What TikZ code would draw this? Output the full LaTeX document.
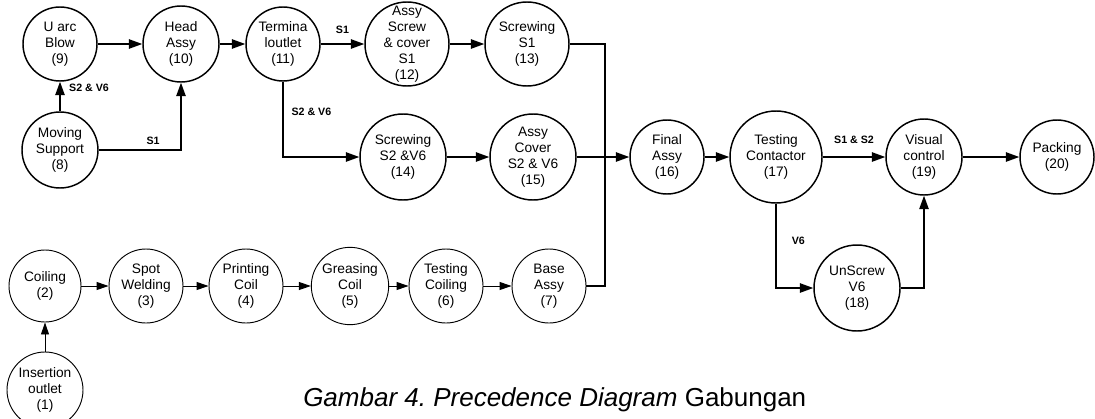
\documentclass[tikz,border=0pt]{standalone}
\usepackage{fontspec}
\setmainfont{Liberation Sans}
\usetikzlibrary{arrows.meta,positioning}

\tikzset{
  proc/.style={circle, draw, line width=1.1pt, align=center, inner sep=0pt,
    minimum size=55.5pt, font=\fontsize{10.3}{12}\selectfont},
  lowproc/.style={proc, line width=0.7pt},
  flow/.style={line width=1.1pt, -{Triangle[length=10pt,width=7pt]}},
  lowflow/.style={line width=0.7pt, -{Triangle[length=9pt,width=6pt]}},
  tag/.style={font=\fontsize{8}{9.6}\selectfont\bfseries}
}

\begin{document}
\frenchspacing
\begin{tikzpicture}[x=0.75pt, y=-0.75pt]
  \def\ytop{44}
  \def\ymid{157}
  \def\ybot{286}
  \useasboundingbox (0,0) rectangle (1095,418);

  \node[proc] (uarcblow) at (60,\ytop) {U arc\\Blow\\(9)};
  \node[proc, minimum size=57pt] (headassy) at (181,\ytop) {Head\\Assy\\(10)};
  \node[proc] (terminaloutlet) at (283,\ytop) {Termina\\loutlet\\(11)};
  \node[proc, minimum size=63pt, inner sep=-12pt] (assyscrew) at (407,\ytop) {Assy\\Screw\\\& cover\\S1\\(12)};
  \node[proc, minimum size=63pt] (screwingsone) at (527,\ytop) {Screwing\\S1\\(13)};

  \node[proc, minimum size=57pt] (movingsupport) at (60,150) {Moving\\Support\\(8)};
  \node[proc, minimum size=64.5pt] (screwingstwo) at (403,\ymid) {Screwing\\S2 \&V6\\(14)};
  \node[proc, minimum size=64.5pt] (assycover) at (533,\ymid) {Assy\\Cover\\S2 \& V6\\(15)};
  \node[proc] (finalassy) at (667,\ymid) {Final\\Assy\\(16)};
  \node[proc, minimum size=69pt] (testingcontactor) at (776,\ymid) {Testing\\Contactor\\(17)};
  \node[proc, minimum size=57pt] (visualcontrol) at (924,\ymid) {Visual\\control\\(19)};
  \node[proc] (packing) at (1057,\ymid) {Packing\\(20)};
  \node[proc, minimum size=64.5pt] (unscrew) at (857,288) {UnScrew\\V6\\(18)};

  \node[lowproc, minimum size=54pt] (coiling) at (45,\ybot) {Coiling\\(2)};
  \node[lowproc] (spotwelding) at (146,\ybot) {Spot\\Welding\\(3)};
  \node[lowproc] (printingcoil) at (246,\ybot) {Printing\\Coil\\(4)};
  \node[lowproc, minimum size=58pt] (greasingcoil) at (350,\ybot) {Greasing\\Coil\\(5)};
  \node[lowproc] (testingcoiling) at (446,\ybot) {Testing\\Coiling\\(6)};
  \node[lowproc] (baseassy) at (549,\ybot) {Base\\Assy\\(7)};
  \node[lowproc, minimum size=57pt] (insertionoutlet) at (45,390) {Insertion\\outlet\\(1)};

  \coordinate (join) at (605,\ymid);

  \draw[flow] (uarcblow) -- (headassy);
  \draw[flow] (headassy) -- (terminaloutlet);
  \draw[flow] (terminaloutlet) -- node[tag, above=4pt] {S1} (assyscrew);
  \draw[flow] (assyscrew) -- (screwingsone);
  \draw[flow] (movingsupport) -- node[tag, pos=0.78, right=3pt] {S2 \& V6} (uarcblow);
  \draw[flow] (movingsupport) -| node[tag, pos=0.33, above] {S1} (headassy);
  \draw[flow] (terminaloutlet) |- node[tag, pos=0.2, right=2.5pt] {S2 \& V6} (screwingstwo);
  \draw[flow] (screwingstwo) -- (assycover);

  \draw[line width=1.1pt] (screwingsone) -| (join);
  \draw[line width=1.1pt] (baseassy) -| (join);
  \draw[flow] (assycover) -- (finalassy);
  \draw[flow] (finalassy) -- (testingcontactor);
  \draw[flow] (testingcontactor) -- node[tag, above=6pt] {S1 \& S2} (visualcontrol);
  \draw[flow] (visualcontrol) -- (packing);
  \draw[flow] (testingcontactor) |- node[tag, pos=0.22, right=8pt] {V6} (unscrew);
  \draw[flow] (unscrew) -| (visualcontrol);

  \draw[lowflow] (insertionoutlet) -- (coiling);
  \draw[lowflow] (coiling) -- (spotwelding);
  \draw[lowflow] (spotwelding) -- (printingcoil);
  \draw[lowflow] (printingcoil) -- (greasingcoil);
  \draw[lowflow] (greasingcoil) -- (testingcoiling);
  \draw[lowflow] (testingcoiling) -- (baseassy);

  \node[anchor=base west, inner sep=0pt, font=\fontsize{19.5}{23}\selectfont] (caption) at (303,406)
    {\textit{Gambar 4. Precedence Diagram} Gabungan};
\end{tikzpicture}
\end{document}
